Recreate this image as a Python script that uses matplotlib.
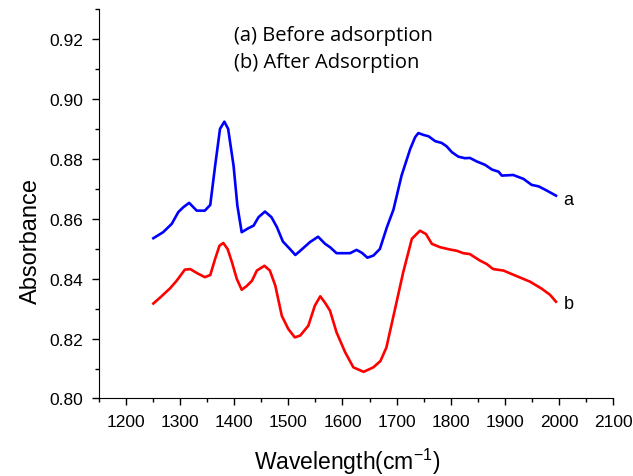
import matplotlib
matplotlib.use('Agg')
import matplotlib.pyplot as plt
from matplotlib.ticker import MultipleLocator

plt.rcParams['font.family'] = ['Liberation Sans', 'DejaVu Sans']
plt.rcParams['mathtext.default'] = 'regular'

# (a) before adsorption
wn_a = [1251, 1269, 1285, 1297, 1306, 1317, 1331, 1346, 1356, 1365, 1374, 1382,
        1389, 1399, 1406, 1414, 1426, 1436, 1445, 1457, 1469, 1479, 1490, 1503,
        1513, 1522, 1540, 1555, 1568, 1577, 1589, 1614, 1626, 1636, 1646, 1657,
        1669, 1682, 1694, 1709, 1725, 1734, 1740, 1749, 1759, 1771, 1783, 1792,
        1802, 1814, 1826, 1835, 1848, 1863, 1876, 1888, 1894, 1915, 1934, 1949,
        1962, 1977, 1994]
abs_a = [0.8535, 0.8555, 0.8583, 0.8622, 0.8638, 0.8653, 0.8627, 0.8627, 0.8646,
         0.8777, 0.8900, 0.8924, 0.8900, 0.8777, 0.8644, 0.8555, 0.8568, 0.8577,
         0.8605, 0.8624, 0.8605, 0.8572, 0.8524, 0.8499, 0.8479, 0.8493, 0.8522,
         0.8540, 0.8516, 0.8505, 0.8485, 0.8485, 0.8496, 0.8486, 0.8470, 0.8477,
         0.8499, 0.8572, 0.8630, 0.8744, 0.8833, 0.8872, 0.8886, 0.8880, 0.8875,
         0.8859, 0.8853, 0.8842, 0.8822, 0.8807, 0.8802, 0.8803, 0.8791, 0.8780,
         0.8764, 0.8757, 0.8744, 0.8746, 0.8733, 0.8713, 0.8708, 0.8694, 0.8677]

# (b) after adsorption
wn_b = [1251, 1266, 1282, 1294, 1309, 1319, 1331, 1346, 1356, 1365, 1373, 1380,
        1388, 1396, 1405, 1414, 1423, 1433, 1442, 1456, 1466, 1476, 1488, 1500,
        1512, 1522, 1537, 1549, 1559, 1568, 1577, 1589, 1605, 1620, 1639, 1657,
        1670, 1681, 1697, 1712, 1728, 1743, 1754, 1765, 1780, 1799, 1811, 1823,
        1835, 1854, 1866, 1878, 1897, 1922, 1946, 1968, 1983, 1994]
abs_b = [0.8317, 0.8341, 0.8368, 0.8393, 0.8430, 0.8432, 0.8419, 0.8405, 0.8412,
         0.8466, 0.8510, 0.8519, 0.8499, 0.8455, 0.8399, 0.8363, 0.8375, 0.8393,
         0.8427, 0.8443, 0.8427, 0.8377, 0.8276, 0.8232, 0.8204, 0.8210, 0.8243,
         0.8310, 0.8341, 0.8319, 0.8293, 0.8221, 0.8154, 0.8104, 0.8089, 0.8104,
         0.8125, 0.8170, 0.8299, 0.8421, 0.8533, 0.8560, 0.8549, 0.8516, 0.8505,
         0.8497, 0.8493, 0.8485, 0.8482, 0.8460, 0.8449, 0.8432, 0.8427, 0.8408,
         0.8390, 0.8366, 0.8346, 0.8323]

fig = plt.figure(figsize=(6.33, 4.77), dpi=100)
ax = fig.add_axes([0.1558, 0.1625, 0.8133, 0.8165])

ax.plot(wn_a, abs_a, color='#0000ff', lw=1.9)
ax.plot(wn_b, abs_b, color='#ff0000', lw=1.9)

ax.set_xlim(1150, 2100)
ax.set_ylim(0.80, 0.93)
ax.set_xticks(range(1200, 2101, 100))
ax.set_yticks([0.80, 0.82, 0.84, 0.86, 0.88, 0.90, 0.92])
ax.xaxis.set_minor_locator(MultipleLocator(50))
ax.yaxis.set_minor_locator(MultipleLocator(0.01))
ax.yaxis.set_major_formatter(plt.FormatStrFormatter('%.2f'))
ax.spines['top'].set_visible(False)
ax.spines['right'].set_visible(False)
ax.tick_params(which='major', direction='out', length=5, width=1, labelsize=12.5, pad=6)
ax.tick_params(which='minor', direction='out', length=3, width=1)

ax.set_xlabel('Wavelength(cm$^{-1}$)', fontsize=16.5)
ax.set_ylabel('Absorbance', fontsize=17)
ax.xaxis.set_label_coords(0.483, -0.122)
ax.yaxis.set_label_coords(-0.11, 0.407)

ax.text(2008, abs_a[-1] - 0.0012, 'a', fontsize=13, va='center', ha='left')
ax.text(2008, abs_b[-1] - 0.0005, 'b', fontsize=13, va='center', ha='left')

ax.text(0.262, 0.96, '(a) Before adsorption\n(b) After Adsorption', transform=ax.transAxes,
        fontsize=14.5, family=['Open Sans', 'DejaVu Sans'], va='top', ha='left', linespacing=1.5)

fig.savefig('out.png', dpi=100)
